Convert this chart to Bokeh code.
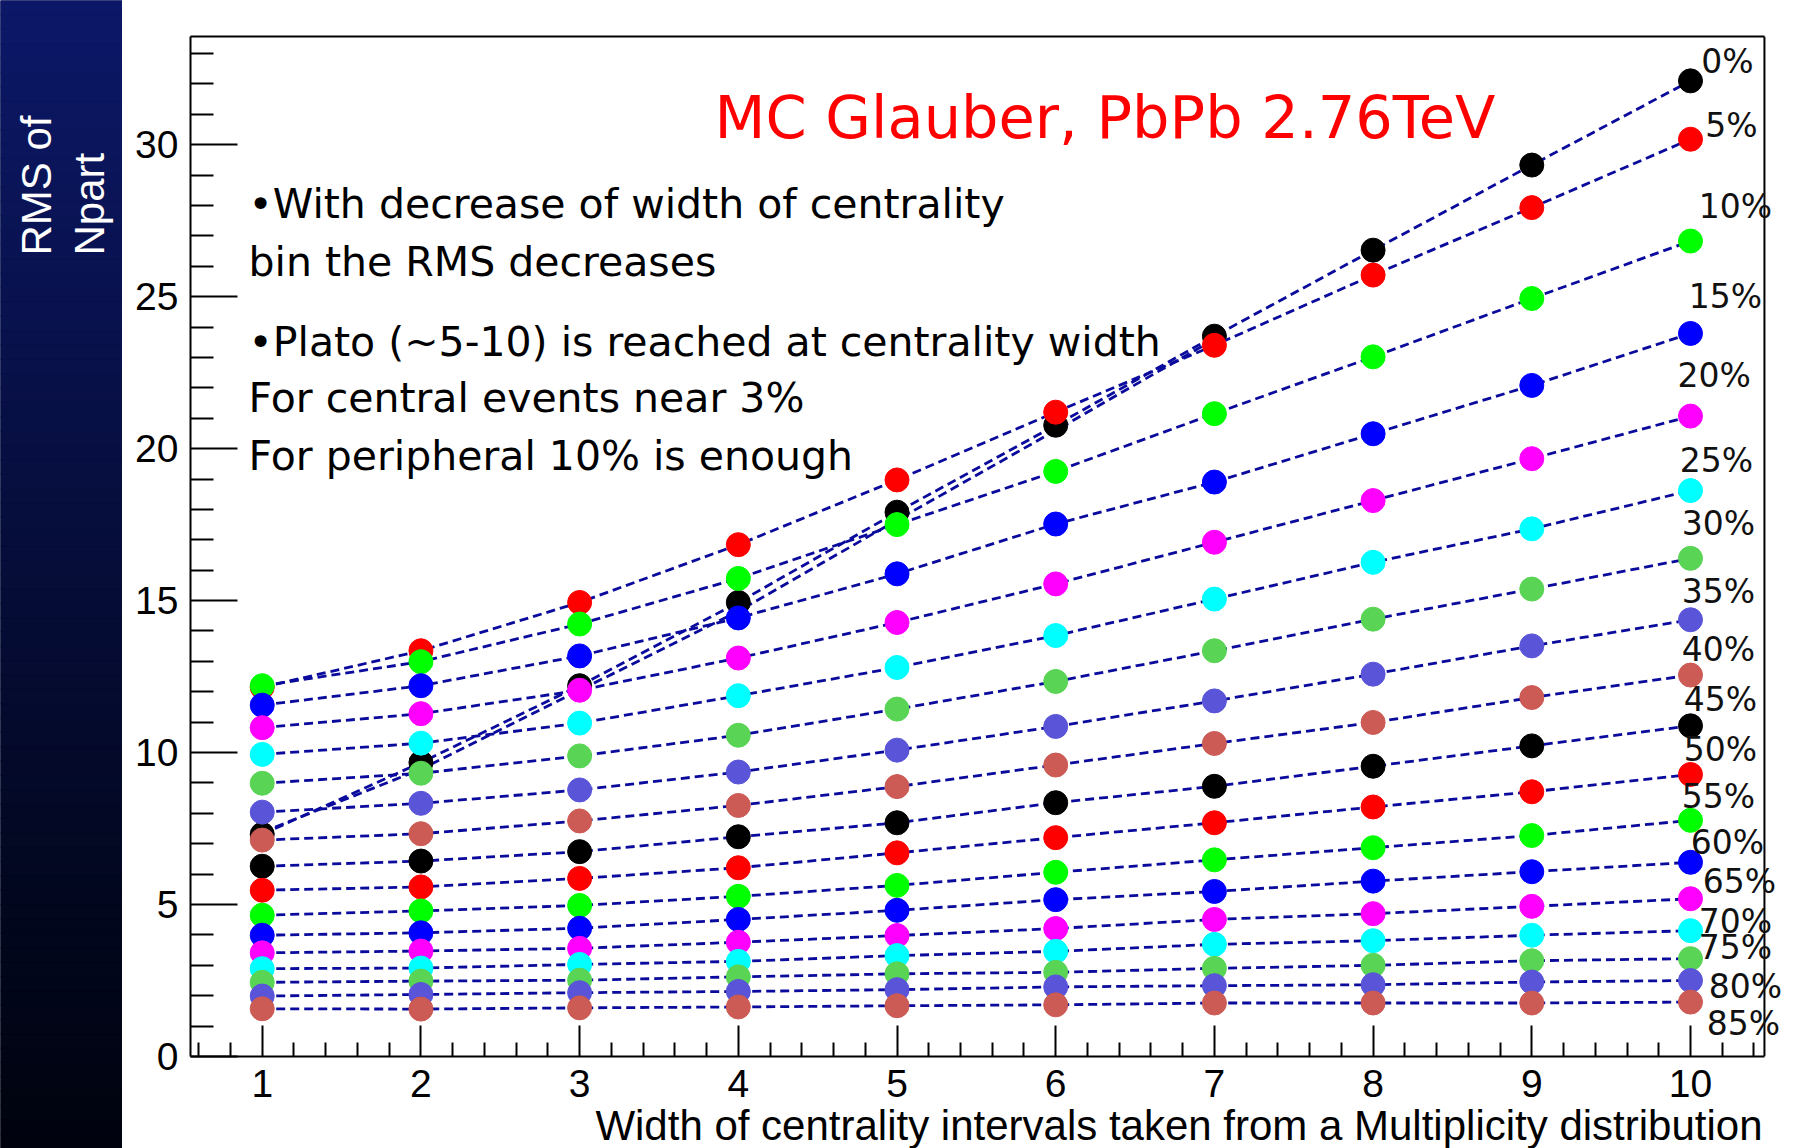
import numpy as np
from bokeh.plotting import figure
from bokeh.models import Range1d, FixedTicker, Label, LinearAxis, Span, Title
from bokeh.layouts import row, column
from bokeh.core.properties import value
from bokeh.embed import file_html
from bokeh.resources import INLINE

# ---------------- data ----------------
widths = [1, 2, 3, 4, 5, 6, 7, 8, 9, 10]
rms_00 = [7.31, 9.67, 12.20, 14.94, 17.91, 20.77, 23.70, 26.53, 29.33, 32.10]
rms_00b = [7.38, 9.45, 12.05, 14.65, 17.65, 20.60, 23.60]   # second trace, widths 1..7
rms_05 = [12.15, 13.35, 14.94, 16.84, 18.97, 21.20, 23.40, 25.71, 27.93, 30.18]
rms_10 = [12.20, 12.99, 14.23, 15.73, 17.50, 19.25, 21.15, 23.02, 24.94, 26.83]
rms_15 = [11.56, 12.20, 13.18, 14.43, 15.88, 17.52, 18.90, 20.49, 22.08, 23.79]
rms_20 = [10.82, 11.28, 12.05, 13.11, 14.28, 15.55, 16.92, 18.29, 19.67, 21.07]
rms_25 = [9.94, 10.31, 10.97, 11.87, 12.80, 13.85, 15.05, 16.26, 17.36, 18.62]
rms_30 = [8.99, 9.32, 9.89, 10.57, 11.43, 12.34, 13.35, 14.39, 15.38, 16.39]
rms_35 = [8.04, 8.33, 8.77, 9.36, 10.08, 10.86, 11.70, 12.58, 13.51, 14.37]
rms_40 = [7.12, 7.33, 7.75, 8.26, 8.88, 9.59, 10.30, 10.99, 11.81, 12.55]
rms_45 = [6.26, 6.43, 6.74, 7.23, 7.69, 8.35, 8.89, 9.55, 10.22, 10.88]
rms_50 = [5.47, 5.58, 5.86, 6.21, 6.70, 7.20, 7.69, 8.21, 8.71, 9.28]
rms_55 = [4.65, 4.79, 4.97, 5.27, 5.63, 6.06, 6.47, 6.87, 7.27, 7.77]
rms_60 = [3.99, 4.07, 4.22, 4.51, 4.81, 5.16, 5.43, 5.77, 6.08, 6.39]
rms_65 = [3.41, 3.47, 3.56, 3.76, 3.98, 4.21, 4.51, 4.70, 4.94, 5.19]
rms_70 = [2.89, 2.91, 3.03, 3.13, 3.32, 3.46, 3.69, 3.81, 3.99, 4.14]
rms_75 = [2.44, 2.48, 2.51, 2.62, 2.72, 2.77, 2.90, 3.00, 3.15, 3.22]
rms_80 = [1.99, 2.04, 2.10, 2.14, 2.20, 2.29, 2.33, 2.36, 2.45, 2.50]
rms_85 = [1.57, 1.56, 1.60, 1.63, 1.67, 1.70, 1.76, 1.76, 1.76, 1.79]

centrality_labels = ["0%", "5%", "10%", "15%", "20%", "25%", "30%", "35%", "40%",
                     "45%", "50%", "55%", "60%", "65%", "70%", "75%", "80%", "85%"]
y_ticks = [0, 5, 10, 15, 20, 25, 30]

series = [rms_00, rms_05, rms_10, rms_15, rms_20, rms_25, rms_30, rms_35, rms_40,
          rms_45, rms_50, rms_55, rms_60, rms_65, rms_70, rms_75, rms_80, rms_85]

# ---------------- styling ----------------
palette = ["#000000", "#ff0000", "#00ff00", "#0000ff", "#ff00ff", "#00ffff",
           "#59d454", "#5954d8", "#cc5a55"]
colors = [palette[i % len(palette)] for i in range(len(series))]
LINE_COLOR = "#0a0a9c"

X_LO, X_HI = 0.548, 10.466      # visible ROOT frame
X_CANVAS_HI = 10.668            # frame extended to the right so the labels are not cut
Y_LO, Y_HI = 0.0, 33.56

# label anchor positions (data units), next to the last point of each series
label_x = [10.233, 10.258, 10.283, 10.220, 10.150, 10.163, 10.176, 10.176, 10.176,
           10.188, 10.188, 10.176, 10.233, 10.308, 10.283, 10.283, 10.346, 10.333]
label_y = [32.75, 30.64, 27.97, 25.00, 22.40, 19.60, 17.53, 15.29, 13.40,
           11.76, 10.11, 8.56, 7.04, 5.76, 4.44, 3.59, 2.30, 1.10]

# ---------------- left dark panel ----------------
left = figure(width=122, height=1148, x_range=Range1d(0, 122), y_range=Range1d(0, 1148),
              toolbar_location=None, output_backend="svg", min_border=0)
left.axis.visible = False
left.grid.visible = False
left.outline_line_color = None
left.background_fill_color = "#050b30"
left.border_fill_color = "#050b30"
n = 80
edges = np.linspace(0, 1148, n + 1)
top_c = np.array([12, 24, 104])
bot_c = np.array([0, 3, 14])
grad = []
for i in range(n):
    t = 1 - (edges[i] + edges[i + 1]) / 2 / 1148.0   # 0 at top, 1 at bottom
    c = top_c * (1 - t) ** 1.1 + bot_c * (1 - (1 - t) ** 1.1)
    grad.append("#%02x%02x%02x" % tuple(int(round(v)) for v in c))
left.quad(left=0, right=122, bottom=edges[:-1], top=edges[1:], fill_color=grad, line_color=grad)
left.text(x=[36, 89], y=[893, 893], text=["RMS of", "Npart"], angle=np.pi / 2,
          text_align="left", text_baseline="alphabetic", text_color="white",
          text_font=value("Liberation Sans"), text_font_size="42px")

# ---------------- top blue strip ----------------
strip = figure(width=1677, height=6, x_range=Range1d(0, 1), y_range=Range1d(0, 1),
               toolbar_location=None, output_backend="svg", min_border=0)
strip.axis.visible = False
strip.grid.visible = False
strip.outline_line_color = None
strip.background_fill_color = "#18298c"
strip.border_fill_color = "#18298c"
strip.quad(left=0, right=1, bottom=0, top=1, fill_color="#18298c", line_color=None)

# ---------------- main plot ----------------
p = figure(width=1677, height=1142, x_range=Range1d(X_LO, X_CANVAS_HI), y_range=Range1d(Y_LO, Y_HI),
           toolbar_location=None, output_backend="svg",
           min_border_left=68, min_border_right=3, min_border_top=30, min_border_bottom=91)
p.background_fill_color = "white"
p.border_fill_color = "white"
p.grid.visible = False
p.outline_line_color = None

minor_x = [round(v, 1) for v in np.arange(0.6, 10.45, 0.2) if abs(v - round(v)) > 1e-6]
minor_y = [v for v in range(1, 34) if v % 5 != 0]
p.xaxis.ticker = FixedTicker(ticks=widths, minor_ticks=minor_x)
p.yaxis.ticker = FixedTicker(ticks=y_ticks, minor_ticks=minor_y)
p.xaxis.bounds = (X_LO, X_HI)

for ax in (p.xaxis[0], p.yaxis[0]):
    ax.axis_line_color = "black"
    ax.axis_line_width = 2
    ax.major_tick_line_color = "black"
    ax.major_tick_line_width = 2
    ax.minor_tick_line_color = "black"
    ax.minor_tick_line_width = 2
    ax.major_tick_out = 0
    ax.minor_tick_out = 0
    ax.major_label_text_font = "Liberation Sans"
    ax.major_label_text_font_size = "39px"
    ax.major_label_text_color = "black"
p.xaxis.major_tick_in = 31
p.xaxis.minor_tick_in = 14
p.xaxis.major_label_standoff = 13
p.yaxis.major_tick_in = 47
p.yaxis.minor_tick_in = 23
p.yaxis.major_label_standoff = 12

# x-axis title, right aligned under the visible frame
p.add_layout(Title(text="Width of centrality intervals taken from a Multiplicity distribution",
                   align="right", offset=34, standoff=0,
                   text_font="Liberation Sans", text_font_size="42px",
                   text_font_style="normal", text_color="black"), "below")

# top frame line (no ticks) and right frame line
top_axis = LinearAxis(ticker=FixedTicker(ticks=[]), bounds=(X_LO, X_HI),
                      major_label_text_font_size="0px", axis_line_width=2,
                      axis_line_color="black", major_tick_in=0, major_tick_out=0,
                      minor_tick_in=0, minor_tick_out=0)
p.add_layout(top_axis, "above")
p.add_layout(Span(location=X_HI, dimension="height", line_color="black", line_width=2))

# second 0% trace (line only, drawn first)
p.line(widths[:len(rms_00b)], rms_00b, line_color=LINE_COLOR, line_width=2.8, line_dash="9 5")

for vals, col in zip(series, colors):
    p.line(widths, vals, line_color=LINE_COLOR, line_width=2.8, line_dash="9 5")
    p.scatter(widths, vals, size=24, fill_color=col, line_color=col, marker="circle")

for lab, lx, ly in zip(centrality_labels, label_x, label_y):
    p.add_layout(Label(x=lx, y=ly, text=lab, text_align="center", text_baseline="middle",
                       text_font="DejaVu Sans", text_font_size="33px", text_color="#111111"))

# title and notes
p.add_layout(Label(x=3.85, y=30.89, text="MC Glauber, PbPb 2.76TeV", text_color="#ff0000",
                   text_font="DejaVu Sans", text_font_size="59px",
                   text_align="left", text_baseline="middle"))
notes = ["\u2022With decrease of width of centrality", "bin the RMS decreases",
         "\u2022Plato (~5-10) is reached at centrality width", "For central events near 3%",
         "For peripheral 10% is enough"]
note_y = [28.04, 26.13, 23.52, 21.68, 19.77]
for t, ny in zip(notes, note_y):
    p.add_layout(Label(x=0.914, y=ny, text=t, text_color="black",
                       text_font="DejaVu Sans", text_font_size="41px",
                       text_align="left", text_baseline="middle"))

layout = row(left, column(strip, p))
open("out.html", "w").write(file_html(layout, INLINE))
